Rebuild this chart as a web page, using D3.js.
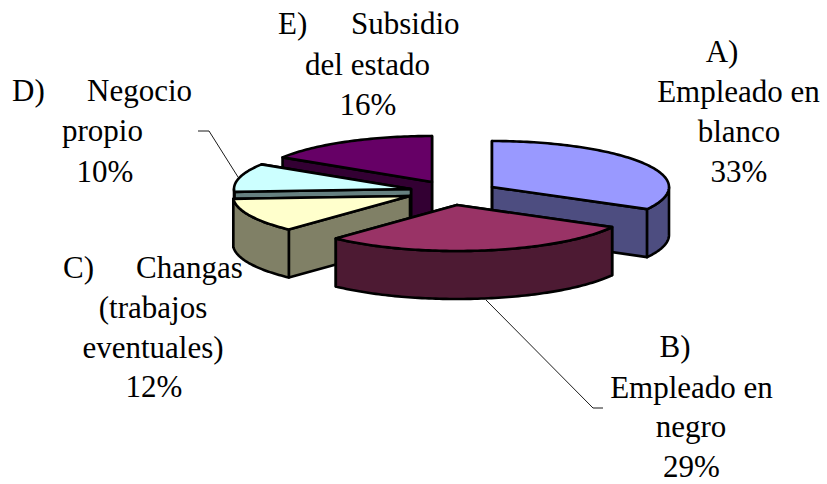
<!DOCTYPE html>
<html><head><meta charset="utf-8">
<script src="https://cdn.jsdelivr.net/npm/d3@7"></script>
<style>html,body{margin:0;padding:0;background:#fff}svg{display:block}
text{font-family:"Liberation Serif",serif;font-size:31px;fill:#000}</style></head>
<body><svg id="c" width="827" height="484"></svg>
<script>
const categories=["A","B","C","D","E"];
const values=[33,29,12,10,16];
const topColors=["#9999FF","#993366","#FFFFCC","#CCFFFF","#660066"];
const wallColors=["#4D4D80","#4D1A33","#808066","#668080","#330033"];
const centerX=[492,457,410,411,432];
const centerY=[187,205,196,189,182];
const drawOrder=[4,3,2,0,1];
const centeredText=[["A)",722,62],["Empleado en",738.5,102],["blanco",739,142],["33%",739,182],
 ["B)",675,357],["Empleado en",691.5,398],["negro",691,437],["29%",691.5,477],
 ["(trabajos",153,318],["eventuales)",153,358],["12%",154,397],["10%",105,182],
 ["del estado",367.5,75],["16%",368,115]];
const leftText=[["C)",63,278],["Changas",136,278],["D)",12,101],["Negocio",87,101],["propio",62,141],["E)",278,34],["Subsidio",351,34]];
const leaders=[[[198,131],[209,131],[238,177]],[[486,300],[593,408],[603,408]]];

const svg=d3.select("#c");
const rx=d3.scaleLinear().domain([0,1]).range([0,177]);
const ry=d3.scaleLinear().domain([0,1]).range([0,46]);
const depth=48;
const arcs=d3.pie().sort(null).value(d=>d)(values);
const line=d3.line();
const pt=(i,ang,dz=0)=>[centerX[i]+rx(Math.sin(ang)),centerY[i]-ry(Math.cos(ang))+dz];
const apex=(i,dz=0)=>[centerX[i],centerY[i]+dz];
const sample=(a0,a1)=>{const n=Math.max(2,Math.ceil((a1-a0)/0.02));return d3.range(n+1).map(k=>a0+(a1-a0)*k/n)};
const face=(pts,fill,w=2.6)=>svg.append("path").attr("d",line(pts)+"Z").attr("fill",fill).attr("stroke","#000").attr("stroke-width",w).attr("stroke-linejoin","round");

drawOrder.forEach(i=>{
  const {startAngle:s,endAngle:e}=arcs[i];
  face([apex(i),pt(i,e),pt(i,e,depth),apex(i,depth)],wallColors[i]);
  face([apex(i),pt(i,s),pt(i,s,depth),apex(i,depth)],wallColors[i]);
  const a0=Math.max(s,Math.PI/2),a1=Math.min(e,Math.PI*1.5);
  if(a1>a0){
    const t=sample(a0,a1);
    face([...t.map(a=>pt(i,a)),...t.slice().reverse().map(a=>pt(i,a,depth))],wallColors[i]);
  }
  face([apex(i),...sample(s,e).map(a=>pt(i,a))],topColors[i]);
});
leaders.forEach(l=>svg.append("path").attr("d",line(l)).attr("fill","none").attr("stroke","#000").attr("stroke-width",0.9));
centeredText.forEach(([t,x,y])=>svg.append("text").attr("x",x).attr("y",y).attr("text-anchor","middle").text(t));
leftText.forEach(([t,x,y])=>svg.append("text").attr("x",x).attr("y",y).text(t));
</script></body></html>
